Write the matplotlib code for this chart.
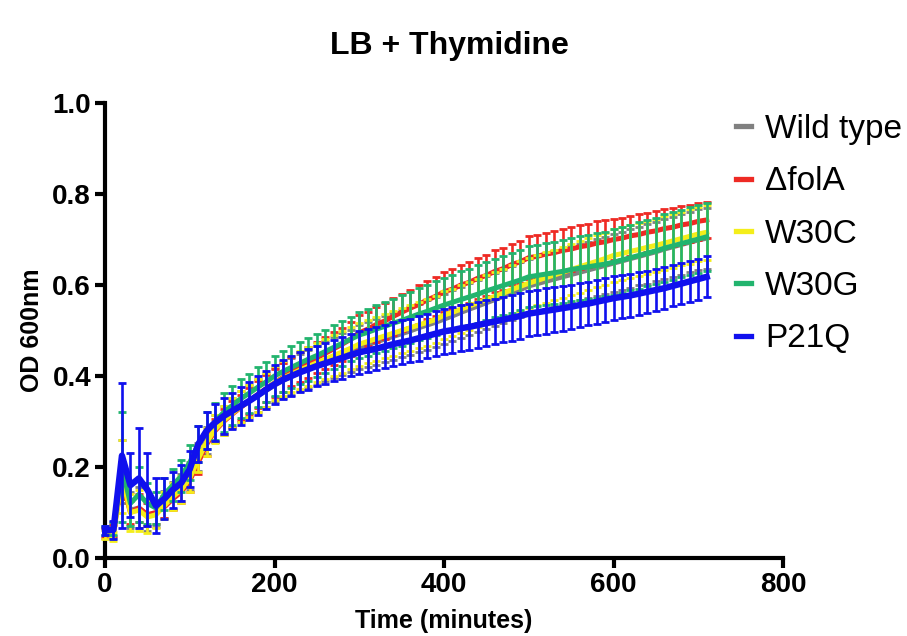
import numpy as np
import matplotlib.pyplot as plt
from matplotlib.lines import Line2D

plt.rcParams['font.family'] = ['Liberation Sans', 'DejaVu Sans']

# sampling every 10 minutes
time_min = np.arange(0, 720, 10)

wild_type = [
    0.058, 0.060, 0.190, 0.105, 0.110, 0.095, 0.098, 0.118, 0.138, 0.155, 0.180, 0.222,
    0.258, 0.285, 0.303, 0.318, 0.332, 0.345, 0.357, 0.368, 0.380, 0.390, 0.399, 0.408,
    0.416, 0.424, 0.432, 0.440, 0.448, 0.455, 0.463, 0.469, 0.475, 0.481, 0.487, 0.493,
    0.499, 0.506, 0.512, 0.518, 0.525, 0.532, 0.540, 0.547, 0.554, 0.561, 0.568, 0.575,
    0.583, 0.590, 0.598, 0.603, 0.608, 0.613, 0.618, 0.623, 0.628, 0.633, 0.638, 0.643,
    0.648, 0.653, 0.658, 0.663, 0.668, 0.673, 0.679, 0.684, 0.689, 0.694, 0.699, 0.703]
wild_type_sd = [
    0.010, 0.015, 0.070, 0.040, 0.045, 0.035, 0.030, 0.030, 0.030, 0.030, 0.030, 0.030,
    0.030, 0.030, 0.032, 0.033, 0.034, 0.035, 0.036, 0.037, 0.038, 0.039, 0.040, 0.041,
    0.042, 0.043, 0.044, 0.045, 0.046, 0.047, 0.048, 0.049, 0.050, 0.050, 0.051, 0.052,
    0.053, 0.053, 0.054, 0.055, 0.055, 0.056, 0.056, 0.057, 0.057, 0.058, 0.058, 0.059,
    0.059, 0.060, 0.060, 0.060, 0.061, 0.061, 0.061, 0.062, 0.062, 0.062, 0.063, 0.063,
    0.063, 0.064, 0.064, 0.064, 0.065, 0.065, 0.065, 0.066, 0.066, 0.066, 0.067, 0.067]

dfola = [
    0.055, 0.060, 0.170, 0.100, 0.110, 0.095, 0.100, 0.112, 0.130, 0.145, 0.170, 0.210,
    0.250, 0.280, 0.300, 0.316, 0.331, 0.345, 0.359, 0.372, 0.385, 0.397, 0.409, 0.420,
    0.430, 0.440, 0.450, 0.460, 0.470, 0.481, 0.495, 0.503, 0.513, 0.521, 0.531, 0.540,
    0.549, 0.557, 0.567, 0.575, 0.585, 0.591, 0.600, 0.606, 0.615, 0.621, 0.630, 0.636,
    0.645, 0.651, 0.660, 0.663, 0.668, 0.671, 0.676, 0.679, 0.684, 0.687, 0.692, 0.695,
    0.700, 0.703, 0.708, 0.711, 0.716, 0.719, 0.724, 0.727, 0.732, 0.735, 0.740, 0.743]
dfola_sd = [
    0.010, 0.012, 0.040, 0.025, 0.030, 0.025, 0.025, 0.025, 0.025, 0.025, 0.025, 0.025,
    0.025, 0.026, 0.027, 0.028, 0.028, 0.029, 0.030, 0.030, 0.031, 0.032, 0.032, 0.033,
    0.034, 0.034, 0.035, 0.036, 0.036, 0.037, 0.038, 0.038, 0.039, 0.040, 0.040, 0.041,
    0.041, 0.042, 0.042, 0.043, 0.044, 0.044, 0.044, 0.045, 0.045, 0.045, 0.046, 0.046,
    0.046, 0.046, 0.047, 0.047, 0.047, 0.047, 0.047, 0.048, 0.048, 0.048, 0.048, 0.048,
    0.045, 0.045, 0.044, 0.044, 0.043, 0.043, 0.042, 0.042, 0.041, 0.041, 0.040, 0.040]

w30c = [
    0.052, 0.048, 0.180, 0.100, 0.105, 0.090, 0.095, 0.115, 0.135, 0.150, 0.175, 0.218,
    0.255, 0.283, 0.302, 0.318, 0.332, 0.345, 0.357, 0.369, 0.385, 0.395, 0.404, 0.413,
    0.421, 0.429, 0.437, 0.445, 0.453, 0.461, 0.470, 0.476, 0.482, 0.488, 0.494, 0.500,
    0.506, 0.512, 0.518, 0.524, 0.534, 0.540, 0.547, 0.554, 0.561, 0.568, 0.575, 0.582,
    0.590, 0.597, 0.604, 0.610, 0.616, 0.622, 0.628, 0.634, 0.640, 0.646, 0.652, 0.658,
    0.665, 0.669, 0.674, 0.678, 0.683, 0.687, 0.692, 0.697, 0.702, 0.707, 0.712, 0.716]
w30c_sd = [
    0.010, 0.010, 0.080, 0.040, 0.045, 0.035, 0.030, 0.030, 0.030, 0.030, 0.030, 0.030,
    0.030, 0.031, 0.032, 0.033, 0.034, 0.035, 0.036, 0.037, 0.038, 0.039, 0.040, 0.041,
    0.042, 0.043, 0.044, 0.045, 0.046, 0.046, 0.047, 0.048, 0.048, 0.049, 0.049, 0.050,
    0.050, 0.051, 0.051, 0.052, 0.052, 0.052, 0.053, 0.053, 0.053, 0.054, 0.054, 0.054,
    0.055, 0.055, 0.055, 0.055, 0.056, 0.056, 0.056, 0.056, 0.057, 0.057, 0.057, 0.057,
    0.058, 0.058, 0.058, 0.058, 0.058, 0.059, 0.059, 0.059, 0.059, 0.060, 0.060, 0.060]

w30g = [
    0.060, 0.065, 0.200, 0.120, 0.140, 0.120, 0.110, 0.140, 0.160, 0.180, 0.210, 0.250,
    0.280, 0.300, 0.320, 0.335, 0.350, 0.362, 0.375, 0.387, 0.400, 0.410, 0.419, 0.428,
    0.437, 0.445, 0.454, 0.463, 0.472, 0.481, 0.490, 0.496, 0.503, 0.509, 0.516, 0.522,
    0.529, 0.536, 0.542, 0.549, 0.556, 0.562, 0.568, 0.574, 0.580, 0.587, 0.593, 0.599,
    0.605, 0.611, 0.618, 0.621, 0.624, 0.627, 0.630, 0.634, 0.637, 0.640, 0.643, 0.646,
    0.650, 0.655, 0.660, 0.665, 0.670, 0.675, 0.681, 0.686, 0.691, 0.696, 0.701, 0.706]
w30g_sd = [
    0.010, 0.015, 0.120, 0.050, 0.060, 0.045, 0.035, 0.035, 0.035, 0.035, 0.038, 0.040,
    0.040, 0.041, 0.042, 0.042, 0.043, 0.043, 0.044, 0.044, 0.045, 0.045, 0.046, 0.046,
    0.047, 0.047, 0.048, 0.048, 0.049, 0.049, 0.050, 0.051, 0.052, 0.053, 0.054, 0.055,
    0.056, 0.057, 0.058, 0.059, 0.060, 0.061, 0.062, 0.062, 0.063, 0.064, 0.064, 0.065,
    0.066, 0.066, 0.067, 0.067, 0.068, 0.068, 0.069, 0.069, 0.070, 0.070, 0.071, 0.071,
    0.072, 0.072, 0.072, 0.073, 0.073, 0.073, 0.074, 0.074, 0.074, 0.075, 0.075, 0.075]

p21q = [
    0.060, 0.062, 0.225, 0.160, 0.175, 0.150, 0.115, 0.130, 0.150, 0.165, 0.195, 0.250,
    0.280, 0.298, 0.312, 0.323, 0.334, 0.345, 0.357, 0.370, 0.382, 0.392, 0.400, 0.408,
    0.415, 0.422, 0.428, 0.434, 0.440, 0.446, 0.452, 0.456, 0.460, 0.465, 0.470, 0.474,
    0.478, 0.483, 0.488, 0.493, 0.498, 0.501, 0.505, 0.508, 0.512, 0.516, 0.520, 0.524,
    0.528, 0.532, 0.537, 0.540, 0.543, 0.546, 0.549, 0.552, 0.556, 0.559, 0.563, 0.567,
    0.571, 0.574, 0.577, 0.581, 0.585, 0.589, 0.593, 0.598, 0.603, 0.608, 0.613, 0.618]
p21q_sd = [
    0.010, 0.020, 0.160, 0.070, 0.110, 0.080, 0.060, 0.045, 0.040, 0.040, 0.040, 0.040,
    0.040, 0.040, 0.040, 0.040, 0.041, 0.041, 0.042, 0.042, 0.043, 0.043, 0.044, 0.044,
    0.045, 0.045, 0.045, 0.046, 0.046, 0.046, 0.047, 0.047, 0.047, 0.048, 0.048, 0.048,
    0.048, 0.049, 0.049, 0.049, 0.050, 0.050, 0.050, 0.050, 0.050, 0.050, 0.050, 0.050,
    0.050, 0.050, 0.050, 0.050, 0.050, 0.049, 0.049, 0.049, 0.049, 0.048, 0.048, 0.048,
    0.048, 0.047, 0.047, 0.047, 0.046, 0.046, 0.046, 0.045, 0.045, 0.045, 0.045, 0.045]

labels = ['Wild type', '\u0394folA', 'W30C', 'W30G', 'P21Q']
colors = ['#808080', '#ee2a24', '#f4ee1a', '#22b46e', '#1010ee']
means = [wild_type, dfola, w30c, w30g, p21q]
sds = [wild_type_sd, dfola_sd, w30c_sd, w30g_sd, p21q_sd]

fig = plt.figure(figsize=(9.07, 6.36), dpi=100)
ax = fig.add_axes([105 / 907, 78 / 636, 678 / 907, 455 / 636])

for i, (lab, col, m, s) in enumerate(zip(labels, colors, means, sds)):
    lw = 4.6 if lab == 'P21Q' else 3.6
    ax.errorbar(time_min, m, yerr=s, color=col, lw=lw, elinewidth=1.9,
                capsize=3, capthick=2, zorder=2 + i, clip_on=False)

ax.set_xlim(0, 800)
ax.set_ylim(0, 1.0)
ax.set_xticks([0, 200, 400, 600, 800])
ax.set_yticks([0.0, 0.2, 0.4, 0.6, 0.8, 1.0])
ax.set_yticklabels(['0.0', '0.2', '0.4', '0.6', '0.8', '1.0'])
for side in ['top', 'right']:
    ax.spines[side].set_visible(False)
for side in ['left', 'bottom']:
    ax.spines[side].set_linewidth(3)
ax.tick_params(width=3, length=7, direction='out', labelsize=20, pad=3)
for lbl in ax.get_xticklabels() + ax.get_yticklabels():
    lbl.set_fontweight('bold')

ax.set_xlabel('Time (minutes)', fontsize=18, fontweight='bold', labelpad=8)
ax.set_ylabel('OD 600nm', fontsize=18, fontweight='bold', labelpad=6)
fig.text(449 / 907, 1 - 46 / 636, 'LB + Thymidine', ha='center', va='center',
         fontsize=23, fontweight='bold')

handles = [Line2D([], [], color=c, lw=3.8) for c in colors]
fig.legend(handles, labels, loc='upper left', bbox_to_anchor=(736 / 907, 1 - 114 / 636),
           frameon=False, fontsize=24, handlelength=0.45, handletextpad=0.42,
           labelspacing=0.64, borderpad=0, borderaxespad=0)

fig.savefig('out.png', dpi=100)
